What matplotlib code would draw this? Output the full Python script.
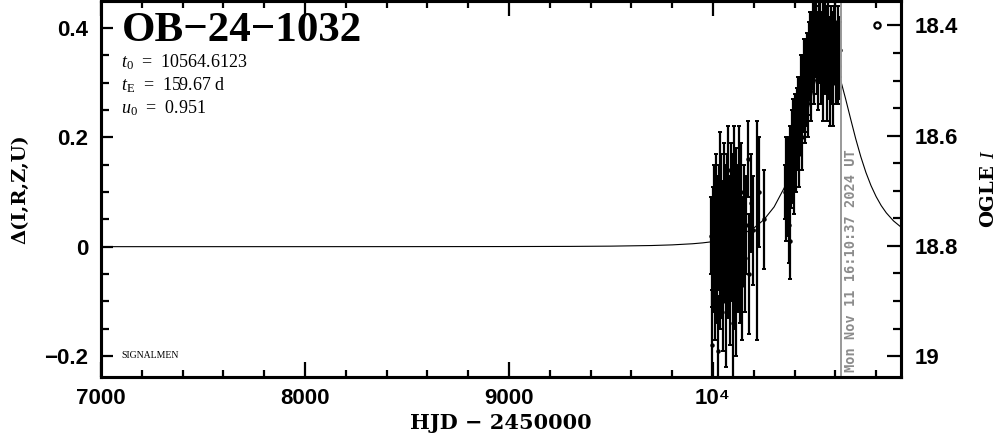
import matplotlib
matplotlib.use("Agg")
import matplotlib.pyplot as plt
from matplotlib.ticker import MultipleLocator, FixedLocator, FixedFormatter
from matplotlib.transforms import blended_transform_factory

plt.rcParams['mathtext.fontset'] = 'custom'
plt.rcParams['mathtext.rm'] = 'Liberation Serif'
plt.rcParams['mathtext.it'] = 'Liberation Serif:italic'
plt.rcParams['mathtext.bf'] = 'DejaVu Serif:bold'

# ---------------- data ----------------
event_name = "OB\u221224\u22121032"
param_t0 = "10564.6123"
param_tE = "159.67 d"
param_u0 = "0.951"
now_hjd = 10626.17
now_label = "Mon Nov 11 16:10:37 2024 UT"

xtick_values = [7000, 8000, 9000, 10000]
xtick_labels = ["7000", "8000", "9000", "10\u2074"]

# model light curve
model_t = [7000, 8000, 8500, 9000, 9300, 9500, 9700, 9800, 9900, 9950, 10000, 10050,
           10100, 10150, 10200, 10250, 10300, 10350, 10400, 10450, 10500, 10525, 10550,
           10565, 10575, 10600, 10625, 10650, 10675, 10700, 10725, 10750, 10775, 10800,
           10825, 10850, 10885, 10922]
model_d = [0.00001, 0.00003, 0.00008, 0.00022, 0.0005, 0.00097, 0.0021, 0.00327, 0.00533,
           0.00696, 0.00923, 0.01244, 0.01707, 0.02385, 0.0340, 0.0493, 0.0727, 0.1079,
           0.1593, 0.2274, 0.3005, 0.3293, 0.3462, 0.3491, 0.3477, 0.3333, 0.3060, 0.2709,
           0.2337, 0.1973, 0.1644, 0.1357, 0.1116, 0.0916, 0.0751, 0.0618, 0.0472, 0.0358]

# OGLE season 2023
s1_t = [9990, 9993, 9995, 9998, 10001, 10003, 10006, 10009, 10011, 10014, 10017, 10020,
        10022, 10025, 10028, 10031, 10033, 10036, 10039, 10042, 10045, 10047, 10050, 10053,
        10056, 10059, 10061, 10064, 10067, 10070, 10073, 10076, 10079, 10082, 10085, 10088,
        10091, 10094, 10097, 10100, 10103, 10106, 10109, 10112, 10115, 10118, 10121, 10124,
        10127, 10131, 10135, 10139, 10143, 10148, 10153, 10158, 10164, 10171, 10178, 10186,
        10196, 10216, 10228, 10250]
s1_d = [0.02, -0.03, -0.18, 0.05, -0.05, 0.08, 0.00, -0.08, 0.03, -0.02, 0.10, -0.06,
        0.04, -0.19, 0.07, -0.01, 0.12, -0.07, 0.02, 0.09, -0.04, 0.05, -0.10, 0.01,
        0.11, -0.03, 0.06, -0.12, 0.03, 0.08, -0.05, 0.14, 0.00, -0.08, 0.05, 0.10,
        -0.02, 0.07, -0.14, 0.04, 0.12, -0.06, 0.02, 0.09, -0.10, 0.05, -0.03, 0.07,
        0.13, -0.04, 0.03, 0.10, -0.07, 0.01, 0.06, -0.02, 0.04, 0.16, -0.05, 0.08,
        0.03, 0.03, 0.10, 0.05]
s1_e = [0.07, 0.08, 0.10, 0.06, 0.07, 0.07, 0.06, 0.09, 0.08, 0.07, 0.07, 0.08,
        0.09, 0.10, 0.08, 0.07, 0.09, 0.08, 0.06, 0.08, 0.09, 0.07, 0.09, 0.08,
        0.08, 0.07, 0.09, 0.10, 0.07, 0.09, 0.08, 0.08, 0.07, 0.10, 0.08, 0.09,
        0.08, 0.10, 0.11, 0.08, 0.10, 0.09, 0.08, 0.09, 0.10, 0.07, 0.09, 0.08,
        0.09, 0.10, 0.08, 0.09, 0.10, 0.08, 0.09, 0.10, 0.09, 0.07, 0.11, 0.09,
        0.10, 0.20, 0.10, 0.09]

# OGLE season 2024
s2_t = [10353, 10356, 10358, 10361, 10364, 10366, 10369, 10372, 10375, 10377, 10380, 10383,
        10386, 10389, 10392, 10395, 10398, 10401, 10404, 10407, 10410, 10413, 10416, 10419,
        10422, 10425, 10428, 10431, 10434, 10437, 10440, 10443, 10446, 10449, 10452, 10455,
        10458, 10461, 10464, 10467, 10470, 10473, 10476, 10479, 10482, 10485, 10488, 10491,
        10494, 10497, 10500, 10503, 10506, 10509, 10512, 10515, 10518, 10521, 10524, 10527,
        10530, 10533, 10536, 10539, 10542, 10545, 10548, 10551, 10554, 10557, 10560, 10563,
        10566, 10569, 10572, 10575, 10578, 10581, 10584, 10587, 10590, 10593, 10596, 10599,
        10602, 10605, 10608, 10611, 10614, 10617, 10620, 10623]
s2_d = [0.10, 0.14, 0.06, 0.12, 0.08, 0.15, 0.11, 0.04, 0.13, 0.01, 0.16, 0.12,
        0.18, 0.14, 0.21, 0.17, 0.13, 0.20, 0.23, 0.16, 0.22, 0.19, 0.25, 0.21,
        0.17, 0.26, 0.23, 0.28, 0.24, 0.20, 0.29, 0.26, 0.31, 0.27, 0.24, 0.32,
        0.29, 0.34, 0.30, 0.27, 0.35, 0.32, 0.37, 0.33, 0.29, 0.38, 0.35, 0.40,
        0.36, 0.32, 0.39, 0.36, 0.41, 0.34, 0.38, 0.31, 0.37, 0.40, 0.35, 0.42,
        0.33, 0.38, 0.36, 0.30, 0.39, 0.35, 0.41, 0.34, 0.37, 0.31, 0.38, 0.35,
        0.40, 0.33, 0.37, 0.29, 0.36, 0.39, 0.33, 0.37, 0.30, 0.38, 0.35, 0.41,
        0.32, 0.36, 0.34, 0.38, 0.31, 0.35, 0.33, 0.36]
s2_e = [0.05, 0.06, 0.05, 0.07, 0.06, 0.05, 0.06, 0.07, 0.05, 0.07, 0.06, 0.05,
        0.07, 0.06, 0.06, 0.05, 0.07, 0.06, 0.05, 0.06, 0.07, 0.05, 0.06, 0.07,
        0.06, 0.05, 0.06, 0.07, 0.05, 0.06, 0.06, 0.05, 0.07, 0.06, 0.05, 0.06,
        0.07, 0.05, 0.06, 0.07, 0.06, 0.05, 0.06, 0.07, 0.06, 0.05, 0.06, 0.07,
        0.05, 0.06, 0.06, 0.05, 0.07, 0.06, 0.05, 0.06, 0.07, 0.06, 0.05, 0.06,
        0.07, 0.05, 0.06, 0.07, 0.06, 0.05, 0.07, 0.06, 0.05, 0.08, 0.06, 0.05,
        0.07, 0.06, 0.05, 0.07, 0.06, 0.05, 0.07, 0.06, 0.08, 0.06, 0.05, 0.07,
        0.06, 0.05, 0.07, 0.06, 0.05, 0.07, 0.06, 0.05]

# ---------------- figure ----------------
W, H = 1004, 434
fig = plt.figure(figsize=(W / 100, H / 100), dpi=100)
ax = fig.add_axes([101 / W, 57 / H, 800 / W, 376 / H])

ax.set_xlim(7000, 10922)
ax.set_ylim(-0.2383, 0.4492)

ax.plot(model_t, model_d, color='k', lw=0.8, zorder=2)
for tt, dd, ee in ((s1_t, s1_d, s1_e), (s2_t, s2_d, s2_e)):
    ax.errorbar(tt, dd, yerr=ee, fmt='o', ms=2.2, color='k', ecolor='k',
                elinewidth=1.6, capsize=1.3, capthick=1.4, zorder=3)

ax.axvline(now_hjd, color='#999999', lw=1.4, zorder=4)
tr = blended_transform_factory(ax.transData, ax.transAxes)
ax.annotate(now_label, xy=(now_hjd, 0.012), xycoords=tr, xytext=(2.5, 0),
            textcoords='offset points', rotation=90, ha='left', va='bottom',
            color='#8c8c8c', fontsize=9.8, family='DejaVu Sans Mono', weight='bold')

for sp in ax.spines.values():
    sp.set_linewidth(2.2)

ax.xaxis.set_major_locator(FixedLocator(xtick_values))
ax.xaxis.set_major_formatter(FixedFormatter(xtick_labels))
ax.xaxis.set_minor_locator(MultipleLocator(200))
ax.yaxis.set_major_locator(MultipleLocator(0.2))
ax.yaxis.set_minor_locator(MultipleLocator(0.05))
ax.yaxis.set_major_formatter(plt.FuncFormatter(
    lambda v, p: "0" if abs(v) < 1e-9 else ("\u2212%.1f" % -v if v < 0 else "%.1f" % v)))

ax.tick_params(axis='x', which='both', direction='in', top=True, bottom=True, width=1.6)
ax.tick_params(axis='x', which='major', length=11, pad=8)
ax.tick_params(axis='x', which='minor', length=5)
ax.tick_params(axis='y', which='both', direction='in', left=True, right=False, width=1.6)
ax.tick_params(axis='y', which='major', length=8.6, pad=9)
ax.tick_params(axis='y', which='minor', length=5.8)
for lab in ax.get_xticklabels() + ax.get_yticklabels():
    lab.set_family(['Liberation Sans', 'DejaVu Sans'])
    lab.set_weight('bold')
    lab.set_fontsize(16)

ax.set_xlabel("HJD \u2212 2450000", family='DejaVu Serif', weight='bold', fontsize=15,
              labelpad=3)
ax.set_ylabel("\u0394(I,R,Z,U)", family='DejaVu Serif', weight='bold', fontsize=14,
              labelpad=11)

ax2 = ax.twinx()
ax2.set_ylim(19.038, 18.3557)
ax2.yaxis.set_major_locator(MultipleLocator(0.2))
ax2.yaxis.set_minor_locator(MultipleLocator(0.05))
ax2.yaxis.set_major_formatter(plt.FuncFormatter(
    lambda v, p: "%g" % round(v, 2)))
ax2.tick_params(axis='y', which='both', direction='in', left=False, right=True, width=1.6)
ax2.tick_params(axis='y', which='major', length=10, pad=10)
ax2.tick_params(axis='y', which='minor', length=6)
for lab in ax2.get_yticklabels():
    lab.set_family(['Liberation Sans', 'DejaVu Sans'])
    lab.set_weight('bold')
    lab.set_fontsize(16)
ax2.set_ylabel("OGLE $\\mathbf{\\mathit{I}}$", family='DejaVu Serif', weight='bold',
               fontsize=14, labelpad=16)
for sp in ax2.spines.values():
    sp.set_linewidth(2.2)

# OGLE legend symbol at the 18.4 level
tr2 = blended_transform_factory(ax2.transAxes, ax2.transData)
ax2.plot([0.97], [18.4], 'o', mfc='white', mec='k', ms=4.5, mew=1.6, transform=tr2)

# texts
ax.text(0.026, 0.972, event_name, transform=ax.transAxes, family='Liberation Serif',
        weight='bold', fontsize=31, ha='left', va='top')
ax.text(0.025, 0.838, "$t_0$  =  " + param_t0, transform=ax.transAxes,
        family='Liberation Serif', fontsize=13, ha='left', va='center')
ax.text(0.025, 0.777, "$t_{\\rm E}$  =  " + param_tE, transform=ax.transAxes,
        family='Liberation Serif', fontsize=13, ha='left', va='center')
ax.text(0.025, 0.716, "$u_0$  =  " + param_u0, transform=ax.transAxes,
        family='Liberation Serif', fontsize=13, ha='left', va='center')
ax.text(0.026, 0.058, "SIGNALMEN", transform=ax.transAxes, family='Liberation Serif',
        fontsize=7, ha='left', va='center')

fig.savefig("out.png", dpi=100)
